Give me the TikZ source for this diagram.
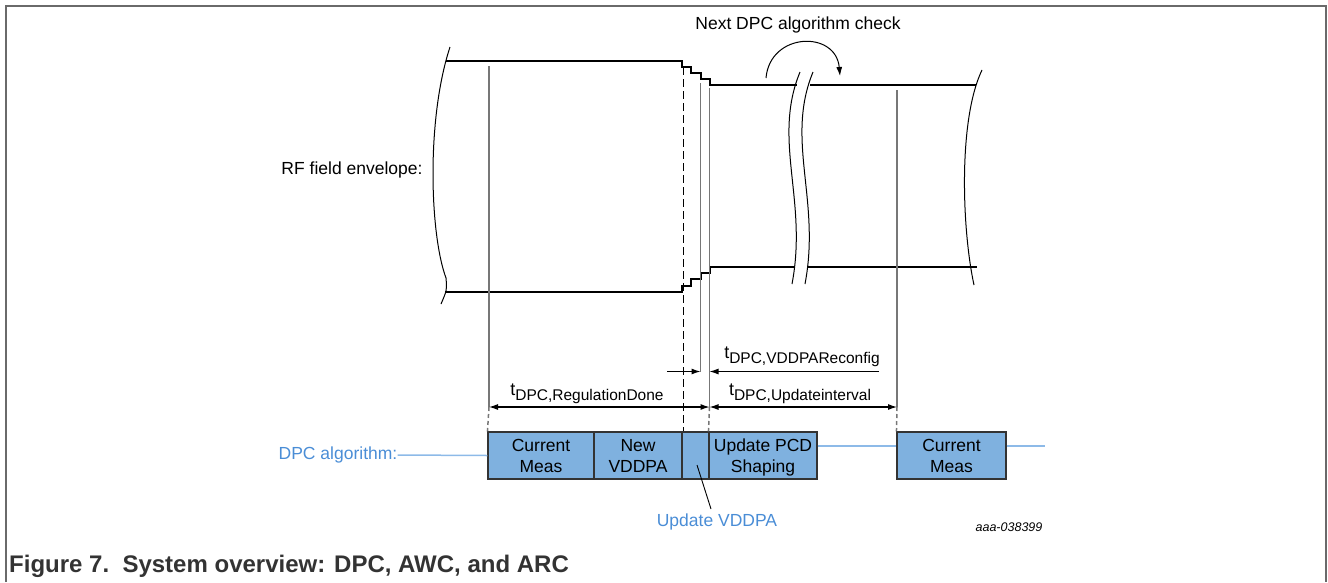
\documentclass[tikz,border=0pt]{standalone}
\usepackage{fontspec}
\setmainfont{Liberation Sans}
\usetikzlibrary{arrows.meta}
\definecolor{boxblue}{HTML}{7FB1DF}
\definecolor{txtblue}{HTML}{4A8DD6}
\definecolor{lineblue}{HTML}{8DBAE8}
\definecolor{framegray}{HTML}{6A6A6A}
\definecolor{vgray}{HTML}{777777}
\definecolor{capgray}{HTML}{333333}
\newcommand{\tlabel}[1]{{\fontsize{18}{18}\selectfont t}\raisebox{-4.5pt}{\fontsize{15.5}{15.5}\selectfont #1}}
\newcommand{\twoline}[2]{\smash[b]{#1}\vphantom{A}\\\smash[b]{#2}\vphantom{A}}
\usepackage{amsmath}
\begin{document}
\begin{tikzpicture}[x=1pt,y=-1pt,
  env/.style={line width=1.9pt,black},
  brk/.style={line width=1pt,black},
  vline/.style={line width=1.5pt,vgray},
  vdash/.style={line width=1.5pt,vgray,dash pattern=on 4pt off 3pt},
  blkdash/.style={line width=0.9pt,black,dash pattern=on 8pt off 4pt},
  arr/.style={line width=1.1pt,black,-{Latex[length=9pt,width=6pt]}},
  darr/.style={line width=1.1pt,black,{Latex[length=9pt,width=6pt]}-{Latex[length=9pt,width=6pt]}},
  txt/.style={font=\fontsize{17.5}{21}\selectfont,inner sep=0pt,align=center},
  blk/.style={draw=black!80,line width=1.1pt,fill=boxblue,minimum height=47pt,inner sep=0pt,txt},
  bluetxt/.style={txt,text=txtblue},
  blueline/.style={lineblue,line width=1.5pt}
]
\useasboundingbox (0,0) rectangle (1328,582);
% frame
\draw[framegray,line width=1.5pt] (6,582) -- (6,6) -- (1326,6) -- (1326,582);

% envelope
\draw[env] (446,61) -- (682,61) -- (682,67) -- (691,67) -- (691,73) -- (701,73) -- (701,79) -- (710,79) -- (710,85) -- (797,85);
\draw[env] (810,85) -- (976,85);
\draw[env] (445,292) -- (682,292) -- (682,286) -- (691,286) -- (691,279) -- (701,279) -- (701,273) -- (710,273) -- (710,267) -- (795,267);
\draw[env] (808,267) -- (977,267);

% break marks
\draw[brk] (450,47) .. controls (426,120) and (430,235) .. (446,278) .. controls (447,290) .. (441,304);
\draw[brk] (800,72) .. controls (772,140) and (808,200) .. (792,284);
\draw[brk] (813,72) .. controls (785,140) and (821,200) .. (805,284);
\draw[brk] (982,70) .. controls (958,120) and (962,230) .. (974,285);

% next check arrow
\node[txt] (next) at (798,25) {Next DPC algorithm check};
\coordinate (ca) at (766,78);
\coordinate (cb) at (840,76);
\draw[line width=1pt,-{Latex[length=9pt,width=6pt]}] (ca) .. controls (770,32) and (836,30) .. (cb);

% labels
\node[txt] (rf) at (352,170) {RF field envelope:};

% boxes
\node[blk,minimum width=106pt] (b1) at (541,455.5) {\twoline{Current}{Meas}};
\node[blk,minimum width=88pt] (b2) at (638,455.5) {\twoline{New}{VDDPA}};
\node[blk,minimum width=27pt] (b3) at (695.5,455.5) {};
\node[blk,minimum width=108pt] (b4) at (763,455.5) {\twoline{Update PCD}{Shaping}};
\node[blk,minimum width=109pt] (b5) at (951.5,455.5) {\twoline{Current}{Meas}};

% vertical lines
\coordinate (g1t) at (489,66);  \coordinate (g1m) at (489,407);
\coordinate (dt) at (683,67);   \coordinate (db) at (683,431);
\coordinate (g2t) at (700.5,83); \coordinate (g2b) at (700.5,372);
\coordinate (g3t) at (709.5,88); \coordinate (g3m) at (709.5,407);
\coordinate (g4t) at (897,90);  \coordinate (g4m) at (897,407);
\draw[vline] (g1t) -- (g1m);
\draw[vdash] (g1m) -- (b1.north west);
\draw[blkdash] (dt) -- (db);
\draw[vline] (g2t) -- (g2b);
\draw[vline] (g3t) -- (g3m);
\draw[vdash] (g3m) -- (b4.north west);
\draw[vline] (g4t) -- (g4m);
\draw[vdash] (g4m) -- (b5.north west);

% dimension arrows
\coordinate (ra) at (667,371.5);
\coordinate (rb) at (700.5,371.5);
\coordinate (la) at (879,371.5);
\coordinate (lb) at (709.5,371.5);
\draw[arr] (ra) -- (rb);
\draw[arr] (la) -- (lb);
\draw[darr] (g1m) -- (g3m);
\draw[darr] (g3m) -- (g4m);
\node[txt] (treg) at (587,394) {\tlabel{DPC,RegulationDone}};
\node[txt] (tupd) at (800,394) {\tlabel{DPC,Updateinterval}};
\node[txt] (tvdd) at (802,357) {\tlabel{DPC,VDDPAReconfig}};

% DPC algorithm row
\node[bluetxt] (dpc) at (338,455) {DPC algorithm:};
\draw[blueline] (dpc.east) -- (b1.west);
\draw[blueline] ([yshift=9.5pt]b4.east) -- ([yshift=9.5pt]b5.west);
\coordinate (tail) at (1045,446);
\draw[blueline] ([yshift=9.5pt]b5.east) -- (tail);

\node[bluetxt] (uv) at (717,522) {Update VDDPA};
\coordinate (uvs) at (697,465);
\coordinate (uve) at (711,509);
\draw[line width=0.9pt,black] (uvs) -- (uve);

\node[txt,font=\fontsize{12.5}{13}\selectfont\itshape] (id) at (1009,527) {aaa-038399};

% caption
\node[txt,anchor=west,text=capgray,font=\fontsize{24}{26}\selectfont\bfseries] (cap) at (9,566) {Figure 7.\ \ System overview: DPC, AWC, and ARC};
\end{tikzpicture}
\end{document}
